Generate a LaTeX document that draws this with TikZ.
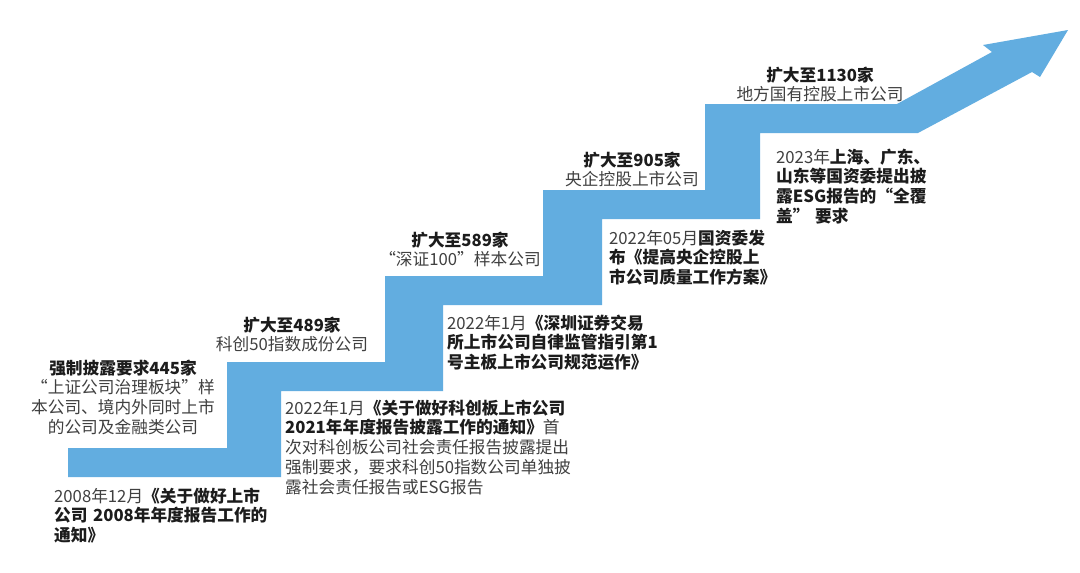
\documentclass[tikz,border=0pt]{standalone}
\usepackage{fontspec}
\setmainfont{Noto Sans CJK SC}
\definecolor{stairblue}{RGB}{98,173,224}
\definecolor{txtgray}{RGB}{64,64,64}
\definecolor{txtblack}{RGB}{28,28,28}
\newcommand\bk[1]{{\bfseries\color{txtblack}#1}}
\tikzset{
  lbl/.style={font=\fontsize{16.7}{19.8}\selectfont, text=txtgray, inner sep=0pt, text width=270pt},
  lblc/.style={lbl, align=center, anchor=base},
  lbll/.style={lbl, align=left, anchor=base west},
}
\begin{document}
\begin{tikzpicture}[x=1pt,y=-1pt]
\fill[white] (0,0) rectangle (1080,573);
\useasboundingbox (0,0) rectangle (1080,573);
% staircase arrow
\fill[stairblue] (68,477) -- (68,448) -- (227,448) -- (227,362) -- (385,362) -- (385,276)
  -- (543,276) -- (543,190) -- (705,190) -- (705,104) -- (897,104) -- (992,52)
  -- (983,45) -- (1068,30) -- (1040,77) -- (1032,72) -- (918,133) -- (760,133)
  -- (760,219) -- (602,219) -- (602,305) -- (443,305) -- (443,391) -- (281,391)
  -- (281,477) -- cycle;
% labels above steps
\node[lblc] (a) at (123,374) {\bk{强制披露要求445家}\\“上证公司治理板块”样\\本公司、境内外同时上市\\的公司及金融类公司};
\node[lblc] (c) at (292,331) {\bk{扩大至489家}\\科创50指数成份公司};
\node[lblc] (e) at (460,246) {\bk{扩大至589家}\\“深证100”样本公司};
\node[lblc] (g) at (632,166) {\bk{扩大至905家}\\央企控股上市公司};
\node[lblc] (i) at (820,81) {\bk{扩大至1130家}\\地方国有控股上市公司};
% labels below steps
\node[lbll] (b) at (54,502) {2008年12月\bk{《关于做好上市}\\\bk{公司 2008年年度报告工作的}\\\bk{通知》}};
\node[lbll] (d) at (285,414) {2022年1月\bk{《关于做好科创板上市公司}\\\bk{2021年年度报告披露工作的通知》}首\\次对科创板公司社会责任报告披露提出\\强制要求，要求科创50指数公司单独披\\露社会责任报告或ESG报告};
\node[lbll] (f) at (447,329) {2022年1月\bk{《深圳证券交易}\\\bk{所上市公司自律监管指引第1}\\\bk{号主板上市公司规范运作》}};
\node[lbll] (h) at (609,244) {2022年05月\bk{国资委发}\\\bk{布《提高央企控股上}\\\bk{市公司质量工作方案》}};
\node[lbll] (j) at (776,163) {2023年\bk{上海、广东、}\\\bk{山东等国资委提出披}\\\bk{露ESG报告的“全覆}\\\bk{盖” 要求}};
\end{tikzpicture}
\end{document}
